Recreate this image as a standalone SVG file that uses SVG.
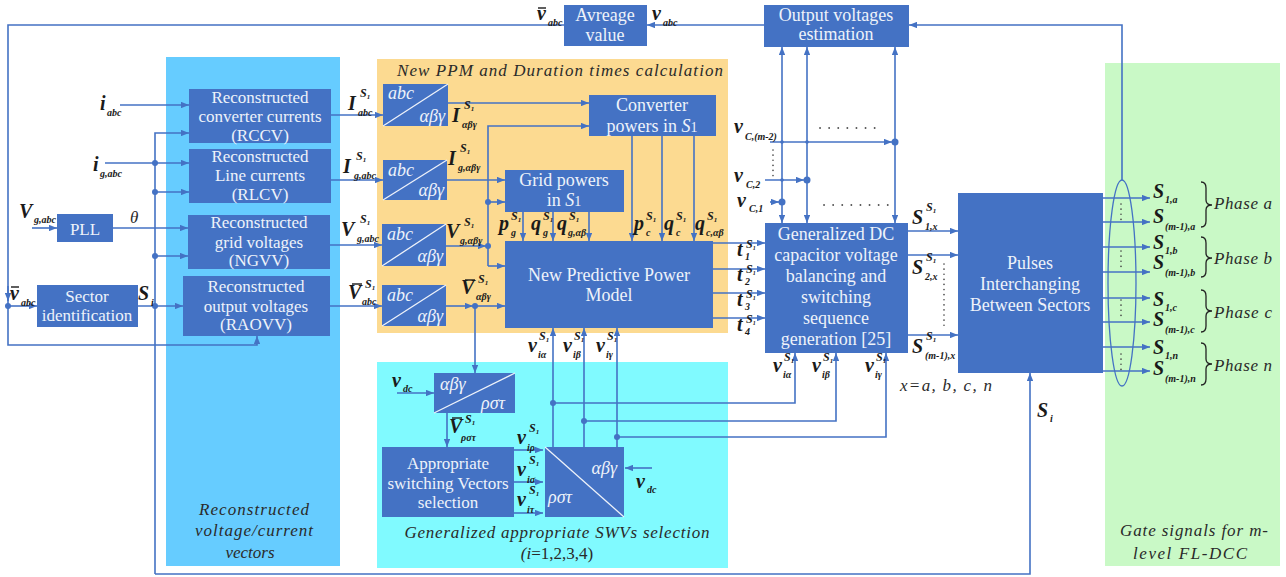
<svg xmlns="http://www.w3.org/2000/svg" width="1286" height="577" viewBox="0 0 1286 577">
<defs>
<marker id="ah" viewBox="0 0 10 8" refX="10" refY="4" markerWidth="8" markerHeight="6.4" markerUnits="userSpaceOnUse" orient="auto-start-reverse"><path d="M0,0 L10,4 L0,8 z" fill="#4472C4"/></marker>
<style>
.box{fill:#4472C4}
.ln{fill:none;stroke:#4472C4;stroke-width:1.6}
.la{fill:none;stroke:#4472C4;stroke-width:1.6;marker-end:url(#ah)}
.lb{fill:none;stroke:#4472C4;stroke-width:1.6;marker-end:url(#ah);marker-start:url(#ah)}
.dg{stroke:#EEF2FA;stroke-width:1.3}
.bt{font-family:"Liberation Serif","DejaVu Serif",serif;font-size:17px;fill:#EEF2FA;text-anchor:middle}
.b18{font-size:18px}
.m{font-family:"Liberation Serif","DejaVu Serif",serif;font-weight:bold;font-style:italic;font-size:20px;fill:#1a1a1a}
.s{font-family:"Liberation Serif","DejaVu Serif",serif;font-weight:bold;font-style:italic;font-size:10px;fill:#1a1a1a}
.sp{font-family:"Liberation Serif","DejaVu Serif",serif;font-weight:bold;font-style:italic;font-size:12px;fill:#1a1a1a}
.it{font-family:"Liberation Serif","DejaVu Serif",serif;font-style:italic;font-size:17px;fill:#2a2a2a}
.tr{font-family:"Liberation Serif","DejaVu Serif",serif;font-style:italic;font-size:18px;fill:#EEF2FA}
.dot{fill:#4472C4}
.dd{stroke:#555;stroke-width:1.8;stroke-linecap:round;stroke-dasharray:0.1 9;fill:none}
.ddv{stroke:#444;stroke-width:1.6;stroke-linecap:round;stroke-dasharray:0.1 5;fill:none}
.bar{stroke:#1a1a1a;stroke-width:1.4}
.br{fill:none;stroke:#222;stroke-width:1.3}
</style>
</defs>
<rect width="1286" height="577" fill="#ffffff"/>
<g id="panels">
<rect x="166" y="57" width="174" height="509" fill="#66CCFF"/>
<rect x="377" y="59" width="351" height="274" fill="#FCDA91"/>
<rect x="377" y="362" width="351" height="206" fill="#80FAFF"/>
<rect x="1105" y="63" width="175" height="503" fill="#C9F9C6"/>
<text class="it" x="560" y="76" text-anchor="middle" textLength="326" lengthAdjust="spacing">New PPM and Duration times calculation</text>
<text class="it" x="254" y="515" text-anchor="middle" font-size="19" textLength="110" lengthAdjust="spacing">Reconstructed</text>
<text class="it" x="254" y="536" text-anchor="middle" font-size="19" textLength="118" lengthAdjust="spacing">voltage/current</text>
<text class="it" x="250" y="558" text-anchor="middle" font-size="19">vectors</text>
<text class="it" x="557" y="538" text-anchor="middle" textLength="305" lengthAdjust="spacing">Generalized appropriate SWVs selection</text>
<text class="it" x="557" y="559" text-anchor="middle" style="font-style:normal"><tspan font-style="italic">(i</tspan>=1,2,3,4)</text>
<text class="it" x="1194" y="536" text-anchor="middle" textLength="148" lengthAdjust="spacing">Gate signals for m-</text>
<text class="it" x="1190" y="559" text-anchor="middle" textLength="114" lengthAdjust="spacing">level FL-DCC</text>
<text class="it" x="900" y="391" textLength="92" lengthAdjust="spacing">x=a, b, c, n</text>
</g>
<g id="connectors">
<path class="la" d="M1122,180 V25 H909"/>
<path class="la" d="M764,25 H647"/>
<path class="la" d="M564,25 H8 V345 H257 V336"/>
<path class="la" d="M8,286 V301"/>
<circle class="dot" cx="8" cy="306" r="3"/>
<path class="la" d="M8,306 H37"/>
<path class="la" d="M120,105 H189"/>
<path class="la" d="M105,163 H189"/>
<path class="la" d="M155,574 V133 H189"/>
<path class="la" d="M155,574 H1030 V373"/>
<circle class="dot" cx="155" cy="163" r="3"/>
<circle class="dot" cx="155" cy="192" r="3"/>
<path class="la" d="M155,192 H189"/>
<circle class="dot" cx="155" cy="256" r="3"/>
<path class="la" d="M155,256 H188"/>
<path class="la" d="M32,228 H57"/>
<path class="la" d="M113,228 H188"/>
<path class="la" d="M138,306 H183"/>
<circle class="dot" cx="155" cy="306" r="3"/>
<path class="la" d="M331,115 H383"/>
<path class="la" d="M331,180 H383"/>
<path class="la" d="M330,245 H382"/>
<path class="la" d="M330,306 H382"/>
<path class="la" d="M448,103 H589"/>
<path class="la" d="M447,180 H505"/>
<path class="la" d="M446,246 H486"/>
<circle class="dot" cx="488" cy="246" r="3"/>
<path class="la" d="M488,266 V126 H589"/>
<circle class="dot" cx="488" cy="202" r="3"/>
<path class="la" d="M488,202 H505"/>
<path class="la" d="M488,266 H505"/>
<path class="la" d="M446,306 H473"/>
<circle class="dot" cx="475" cy="306" r="3"/>
<path class="la" d="M475,306 H505"/>
<path class="la" d="M475,306 V373"/>
<path class="la" d="M523,212 V241"/>
<path class="la" d="M553,212 V241"/>
<path class="la" d="M589,212 V241"/>
<path class="la" d="M632,136 V241"/>
<path class="la" d="M662,136 V241"/>
<path class="la" d="M694,136 V241"/>
<path class="la" d="M713,243 H765"/>
<path class="la" d="M713,269 H765"/>
<path class="la" d="M713,293 H765"/>
<path class="la" d="M713,318 H765"/>
<path class="la" d="M908,231 H958"/>
<path class="la" d="M908,255 H958"/>
<path class="la" d="M908,335 H958"/>
<path class="lb" d="M782,223 V47"/>
<path class="lb" d="M807,223 V47"/>
<path class="lb" d="M895,223 V47"/>
<path class="la" d="M770,142 H892"/>
<circle class="dot" cx="895" cy="142" r="3.5"/>
<circle class="dot" cx="782" cy="142" r="1.8"/>
<circle class="dot" cx="807" cy="142" r="1.8"/>
<path class="la" d="M765,180 H804"/>
<circle class="dot" cx="807" cy="180" r="3.5"/>
<circle class="dot" cx="782" cy="180" r="1.8"/>
<path class="la" d="M770,202 H779"/>
<circle class="dot" cx="782" cy="202" r="3.5"/>
<path class="la" d="M397,393 H434"/>
<path class="la" d="M447,413 V447"/>
<path class="la" d="M514,450 H543"/>
<path class="la" d="M514,482 H543"/>
<path class="la" d="M514,513 H543"/>
<path class="la" d="M652,468 H625"/>
<path class="la" d="M553,447 V328"/>
<path class="la" d="M584,447 V328"/>
<path class="la" d="M617,447 V328"/>
<circle class="dot" cx="553" cy="403" r="3"/>
<circle class="dot" cx="584" cy="421" r="3"/>
<circle class="dot" cx="617" cy="437" r="3"/>
<path class="la" d="M553,403 H795 V353"/>
<path class="la" d="M584,421 H836 V353"/>
<path class="la" d="M617,437 H886 V353"/>
<path class="la" d="M1103,198 H1150"/>
<path class="la" d="M1103,222 H1150"/>
<path class="la" d="M1103,247 H1150"/>
<path class="la" d="M1103,272 H1150"/>
<path class="la" d="M1103,298 H1150"/>
<path class="la" d="M1103,322 H1150"/>
<path class="la" d="M1103,347 H1150"/>
<path class="la" d="M1103,371 H1150"/>
<ellipse cx="1122" cy="283" rx="14" ry="103" fill="none" stroke="#4472C4" stroke-width="1.3"/>
<path class="ddv" d="M1121,204 V220 M1121,251 V267 M1121,300 V316 M1121,354 V370"/>
<path class="ddv" d="M944,264 V330"/>
<path class="ddv" d="M773,150 V178"/>
<path class="dd" d="M820,128 H882 M824,205 H890"/>
</g>
<g id="node-rccv"><rect class="box" x="189" y="89" width="142" height="54"/>
<text class="bt" x="260" y="103">Reconstructed</text><text class="bt" x="260" y="122">converter currents</text><text class="bt" x="260" y="141">(RCCV)</text></g>
<g id="node-rlcv"><rect class="box" x="189" y="149" width="142" height="54"/>
<text class="bt" x="260" y="162">Reconstructed</text><text class="bt" x="260" y="181">Line currents</text><text class="bt" x="260" y="200">(RLCV)</text></g>
<g id="node-ngvv"><rect class="box" x="188" y="215" width="142" height="54"/>
<text class="bt" x="259" y="228">Reconstructed</text><text class="bt" x="259" y="248">grid voltages</text><text class="bt" x="259" y="266">(NGVV)</text></g>
<g id="node-raovv"><rect class="box" x="183" y="276" width="147" height="60"/>
<text class="bt" x="256" y="292">Reconstructed</text><text class="bt" x="256" y="312">output voltages</text><text class="bt" x="256" y="330">(RAOVV)</text></g>
<g id="node-pll"><rect class="box" x="57" y="214" width="56" height="28"/>
<text class="bt" x="85" y="235" font-size="19">PLL</text></g>
<g id="node-sector"><rect class="box" x="37" y="285" width="101" height="42"/>
<text class="bt" x="87" y="302">Sector</text><text class="bt" x="87" y="321">identification</text></g>
<g id="node-t1"><rect class="box" x="383" y="84" width="65" height="42"/><line class="dg" x1="383" y1="126" x2="448" y2="84"/>
<text class="tr" x="388" y="99">abc</text><text class="tr" x="445" y="122" text-anchor="end">αβγ</text></g>
<g id="node-t2"><rect class="box" x="383" y="160" width="64" height="40"/><line class="dg" x1="383" y1="200" x2="447" y2="160"/>
<text class="tr" x="388" y="176">abc</text><text class="tr" x="444" y="196" text-anchor="end">αβγ</text></g>
<g id="node-t3"><rect class="box" x="382" y="224" width="64" height="42"/><line class="dg" x1="382" y1="266" x2="446" y2="224"/>
<text class="tr" x="387" y="240">abc</text><text class="tr" x="443" y="262" text-anchor="end">αβγ</text></g>
<g id="node-t4"><rect class="box" x="382" y="285" width="64" height="41"/><line class="dg" x1="382" y1="326" x2="446" y2="285"/>
<text class="tr" x="387" y="301">abc</text><text class="tr" x="443" y="322" text-anchor="end">αβγ</text></g>
<g id="node-convpow"><rect class="box" x="589" y="95" width="127" height="41"/>
<text class="bt b18" x="652" y="111">Converter</text><text class="bt b18" x="652" y="132">powers in <tspan font-style="italic">S</tspan><tspan font-size="14">1</tspan></text></g>
<g id="node-gridpow"><rect class="box" x="505" y="170" width="119" height="42"/>
<text class="bt b18" x="564" y="186">Grid powers</text><text class="bt b18" x="564" y="206">in <tspan font-style="italic">S</tspan><tspan font-size="14">1</tspan></text></g>
<g id="node-nppm"><rect class="box" x="505" y="241" width="208" height="87"/>
<text class="bt b18" x="609" y="281">New Predictive Power</text><text class="bt b18" x="609" y="301">Model</text></g>
<g id="node-gdc"><rect class="box" x="765" y="223" width="143" height="130"/>
<text class="bt b18" x="836" y="240">Generalized DC</text><text class="bt b18" x="836" y="261">capacitor voltage</text><text class="bt b18" x="836" y="282">balancing and</text><text class="bt b18" x="836" y="303">switching</text><text class="bt b18" x="836" y="324">sequence</text><text class="bt b18" x="836" y="345">generation [25]</text></g>
<g id="node-estim"><rect class="box" x="764" y="5" width="145" height="42"/>
<text class="bt b18" x="836" y="21">Output voltages</text><text class="bt b18" x="836" y="40">estimation</text></g>
<g id="node-avg"><rect class="box" x="564" y="5" width="83" height="41"/>
<text class="bt b18" x="605" y="21">Avreage</text><text class="bt b18" x="605" y="41">value</text></g>
<g id="node-pulses"><rect class="box" x="958" y="193" width="145" height="180"/>
<text class="bt b18" x="1030" y="269">Pulses</text><text class="bt b18" x="1030" y="290">Interchanging</text><text class="bt b18" x="1030" y="311">Between Sectors</text></g>
<g id="node-ab2rst"><rect class="box" x="434" y="373" width="81" height="40"/><line class="dg" x1="434" y1="413" x2="515" y2="373"/>
<text class="tr" x="440" y="390">αβγ</text><text class="tr" x="505" y="409" text-anchor="end">ρστ</text></g>
<g id="node-aswvs"><rect class="box" x="382" y="447" width="132" height="70"/>
<text class="bt" x="448" y="469">Appropriate</text><text class="bt" x="448" y="489">switching Vectors</text><text class="bt" x="448" y="508">selection</text></g>
<g id="node-rst2ab"><rect class="box" x="545" y="447" width="79" height="70"/><line class="dg" x1="545" y1="447" x2="624" y2="517"/>
<text class="tr" x="617" y="474" text-anchor="end">αβγ</text><text class="tr" x="548" y="503">ρστ</text></g>
<g id="labels">
<text class="m" x="100" y="110">i</text><text class="s" x="107" y="116">abc</text>
<text class="m" x="93" y="171">i</text><text class="s" x="100" y="177">g,abc</text>
<text class="m" x="19" y="218">V</text><text class="s" x="34" y="223">g,abc</text>
<line class="bar" x1="11" y1="287" x2="19" y2="287"/><text class="m" x="10" y="300">v</text><text class="s" x="21" y="306">abc</text>
<text class="m" x="138" y="300">S</text><text class="s" x="151" y="306">i</text>
<text class="it" x="130" y="223">θ</text>
<text class="m" x="348" y="110">I</text><text class="sp" x="360" y="97">S<tspan font-size="7" dy="2">1</tspan></text><text class="s" x="358" y="116">abc</text>
<text class="m" x="343" y="173">I</text><text class="sp" x="356" y="160">S<tspan font-size="7" dy="2">1</tspan></text><text class="s" x="354" y="179">g,abc</text>
<text class="m" x="341" y="236">V</text><text class="sp" x="360" y="223">S<tspan font-size="7" dy="2">1</tspan></text><text class="s" x="357" y="242">g,abc</text>
<line class="bar" x1="352" y1="284" x2="362" y2="284"/><text class="m" x="348" y="299">V</text><text class="sp" x="365" y="288">S<tspan font-size="7" dy="2">1</tspan></text><text class="s" x="362" y="305">abc</text>
<text class="m" x="452" y="122">I</text><text class="sp" x="464" y="109">S<tspan font-size="7" dy="2">1</tspan></text><text class="s" x="462" y="128">αβγ</text>
<text class="m" x="448" y="165">I</text><text class="sp" x="460" y="152">S<tspan font-size="7" dy="2">1</tspan></text><text class="s" x="458" y="171">g,αβγ</text>
<text class="m" x="446" y="238">V</text><text class="sp" x="464" y="226">S<tspan font-size="7" dy="2">1</tspan></text><text class="s" x="460" y="244">g,αβγ</text>
<line class="bar" x1="465" y1="280" x2="475" y2="280"/><text class="m" x="461" y="294">V</text><text class="sp" x="478" y="283">S<tspan font-size="7" dy="2">1</tspan></text><text class="s" x="476" y="300">αβγ</text>
<text class="m" x="499" y="230">p</text><text class="sp" x="511" y="220" font-size="11">S<tspan font-size="7" dy="2">1</tspan></text><text class="s" x="511" y="236">g</text>
<text class="m" x="531" y="230">q</text><text class="sp" x="543" y="220" font-size="11">S<tspan font-size="7" dy="2">1</tspan></text><text class="s" x="543" y="236">g</text>
<text class="m" x="557" y="230">q</text><text class="sp" x="569" y="220" font-size="11">S<tspan font-size="7" dy="2">1</tspan></text><text class="s" x="568" y="236">g,αβ</text>
<text class="m" x="634" y="230">p</text><text class="sp" x="646" y="220" font-size="11">S<tspan font-size="7" dy="2">1</tspan></text><text class="s" x="646" y="236">c</text>
<text class="m" x="664" y="230">q</text><text class="sp" x="676" y="220" font-size="11">S<tspan font-size="7" dy="2">1</tspan></text><text class="s" x="676" y="236">c</text>
<text class="m" x="695" y="230">q</text><text class="sp" x="707" y="220" font-size="11">S<tspan font-size="7" dy="2">1</tspan></text><text class="s" x="706" y="236">c,αβ</text>
<text class="m" x="737" y="256">t</text><text class="sp" x="746" y="248" font-size="10">S<tspan font-size="6" dy="2">1</tspan></text><text class="s" x="745" y="260" font-size="9">1</text>
<text class="m" x="737" y="281">t</text><text class="sp" x="746" y="273" font-size="10">S<tspan font-size="6" dy="2">1</tspan></text><text class="s" x="745" y="285" font-size="9">2</text>
<text class="m" x="737" y="306">t</text><text class="sp" x="746" y="298" font-size="10">S<tspan font-size="6" dy="2">1</tspan></text><text class="s" x="745" y="310" font-size="9">3</text>
<text class="m" x="737" y="331">t</text><text class="sp" x="746" y="323" font-size="10">S<tspan font-size="6" dy="2">1</tspan></text><text class="s" x="745" y="335" font-size="9">4</text>
<text class="m" x="528" y="352">v</text><text class="sp" x="539" y="340" font-size="11">S<tspan font-size="7" dy="2">1</tspan></text><text class="s" x="538" y="358">iα</text>
<text class="m" x="563" y="352">v</text><text class="sp" x="574" y="340" font-size="11">S<tspan font-size="7" dy="2">1</tspan></text><text class="s" x="573" y="358">iβ</text>
<text class="m" x="596" y="352">v</text><text class="sp" x="607" y="340" font-size="11">S<tspan font-size="7" dy="2">1</tspan></text><text class="s" x="606" y="358">iγ</text>
<text class="m" x="773" y="372">v</text><text class="sp" x="784" y="361" font-size="11">S<tspan font-size="7" dy="2">1</tspan></text><text class="s" x="783" y="378">iα</text>
<text class="m" x="812" y="372">v</text><text class="sp" x="823" y="361" font-size="11">S<tspan font-size="7" dy="2">1</tspan></text><text class="s" x="822" y="378">iβ</text>
<text class="m" x="865" y="372">v</text><text class="sp" x="876" y="361" font-size="11">S<tspan font-size="7" dy="2">1</tspan></text><text class="s" x="875" y="378">iγ</text>
<text class="m" x="912" y="224">S</text><text class="sp" x="926" y="211">S<tspan font-size="7" dy="2">1</tspan></text><text class="s" x="925" y="230">1,x</text>
<text class="m" x="912" y="274">S</text><text class="sp" x="926" y="261">S<tspan font-size="7" dy="2">1</tspan></text><text class="s" x="925" y="280">2,x</text>
<text class="m" x="912" y="353">S</text><text class="sp" x="926" y="340">S<tspan font-size="7" dy="2">1</tspan></text><text class="s" x="925" y="359">(m-1),x</text>
<text class="m" x="734" y="133">v</text><text class="s" x="745" y="140">C,(m-2)</text>
<text class="m" x="734" y="182">v</text><text class="s" x="746" y="188">C,2</text>
<text class="m" x="737" y="207">v</text><text class="s" x="749" y="212">C,1</text>
<text class="m" x="652" y="20">v</text><text class="s" x="663" y="26">abc</text>
<line class="bar" x1="538" y1="8" x2="546" y2="8"/><text class="m" x="537" y="20">v</text><text class="s" x="548" y="26">abc</text>
<text class="m" x="392" y="387">v</text><text class="s" x="403" y="392">dc</text>
<text class="m" x="636" y="488">v</text><text class="s" x="647" y="493">dc</text>
<line class="bar" x1="452" y1="418" x2="462" y2="418"/><text class="m" x="449" y="433">V</text><text class="sp" x="465" y="423">S<tspan font-size="7" dy="2">1</tspan></text><text class="s" x="461" y="441">ρστ</text>
<text class="m" x="517" y="444">v</text><text class="sp" x="529" y="432">S<tspan font-size="7" dy="2">1</tspan></text><text class="s" x="527" y="451">iρ</text>
<text class="m" x="517" y="476">v</text><text class="sp" x="529" y="464">S<tspan font-size="7" dy="2">1</tspan></text><text class="s" x="527" y="483">iσ</text>
<text class="m" x="517" y="506">v</text><text class="sp" x="529" y="494">S<tspan font-size="7" dy="2">1</tspan></text><text class="s" x="527" y="513">iτ</text>
<text class="m" x="1037" y="417">S</text><text class="s" x="1050" y="422">i</text>
<text class="m" x="1153" y="198">S</text><text class="s" x="1165" y="203">1,a</text>
<text class="m" x="1153" y="223">S</text><text class="s" x="1165" y="230">(m-1),a</text>
<text class="m" x="1153" y="249">S</text><text class="s" x="1165" y="254">1,b</text>
<text class="m" x="1153" y="269">S</text><text class="s" x="1165" y="276">(m-1),b</text>
<text class="m" x="1153" y="306">S</text><text class="s" x="1165" y="311">1,c</text>
<text class="m" x="1153" y="326">S</text><text class="s" x="1165" y="333">(m-1),c</text>
<text class="m" x="1153" y="354">S</text><text class="s" x="1165" y="359">1,n</text>
<text class="m" x="1153" y="375">S</text><text class="s" x="1165" y="382">(m-1),n</text>
<path class="br" d="M1201,182 Q1206,182 1206,188 L1206,200 Q1206,205 1212,205 Q1206,205 1206,210 L1206,221 Q1206,227 1201,227"/>
<path class="br" d="M1201,237 Q1206,237 1206,243 L1206,253 Q1206,258 1212,258 Q1206,258 1206,263 L1206,271 Q1206,277 1201,277"/>
<path class="br" d="M1201,290 Q1206,290 1206,296 L1206,306 Q1206,311 1212,311 Q1206,311 1206,316 L1206,326 Q1206,332 1201,332"/>
<path class="br" d="M1201,343 Q1206,343 1206,349 L1206,359 Q1206,364 1212,364 Q1206,364 1206,369 L1206,379 Q1206,385 1201,385"/>
<text class="it" x="1214" y="209" textLength="58" lengthAdjust="spacing">Phase a</text>
<text class="it" x="1214" y="264" textLength="58" lengthAdjust="spacing">Phase b</text>
<text class="it" x="1214" y="318" textLength="58" lengthAdjust="spacing">Phase c</text>
<text class="it" x="1214" y="371" textLength="58" lengthAdjust="spacing">Phase n</text>
</g>
</svg>
